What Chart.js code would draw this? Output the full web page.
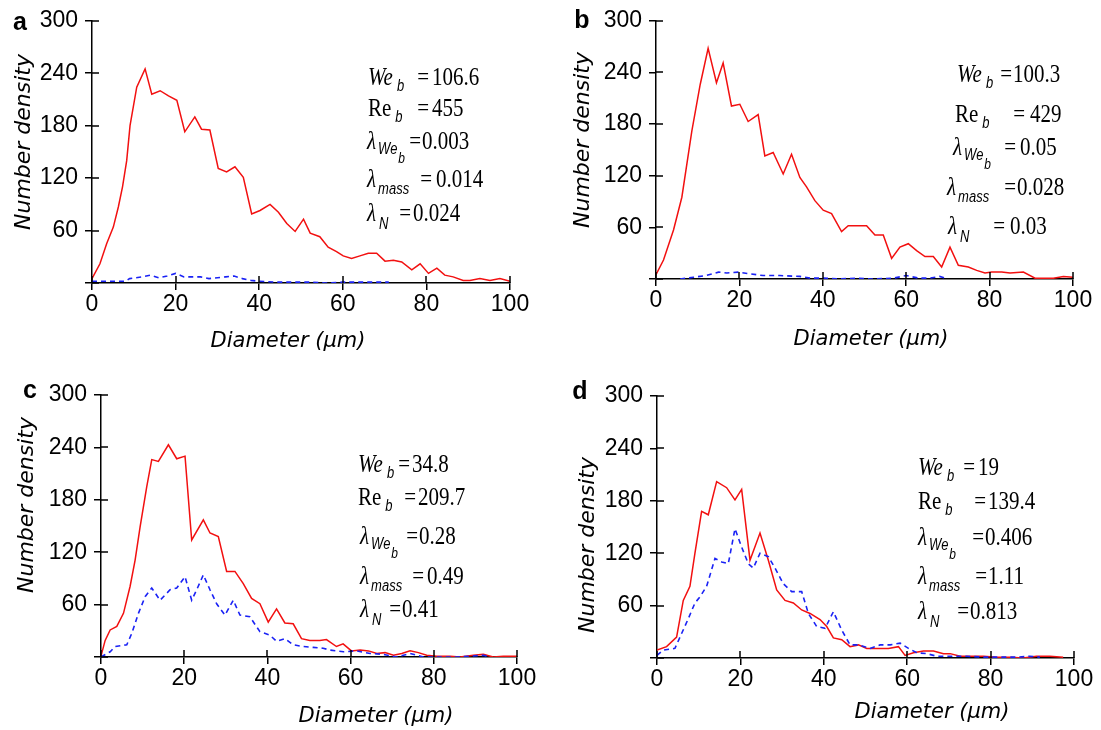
<!DOCTYPE html>
<html><head><meta charset="utf-8">
<script src="https://cdn.jsdelivr.net/npm/chart.js@4.4.1/dist/chart.umd.min.js"></script>
<style>
html,body{margin:0;padding:0;background:#fff;width:1101px;height:730px;overflow:hidden}
.panel{position:absolute}
canvas{display:block}
</style></head><body>
<div class="panel" style="left:0;top:0;width:550px;height:365px"><canvas id="ca" width="550" height="365"></canvas></div>
<div class="panel" style="left:550px;top:0;width:551px;height:365px"><canvas id="cb" width="551" height="365"></canvas></div>
<div class="panel" style="left:0;top:365px;width:550px;height:365px"><canvas id="cc" width="550" height="365"></canvas></div>
<div class="panel" style="left:550px;top:365px;width:551px;height:365px"><canvas id="cd" width="551" height="365"></canvas></div>
<script>
// ---------- data ----------
const xTickValues = [0, 20, 40, 60, 80, 100];
const yTickValues = [0, 60, 120, 180, 240, 300];
const xTitle = 'Diameter (\u03bcm)';
const yTitle = 'Number density';

const aRedX = [0,1.9,3.5,5.1,6.3,7.3,8.3,9.1,10.7,12.7,14.3,16.3,18.3,20.3,22.2,24.6,26.2,28.2,30.2,32.2,34.2,36.2,38.2,40.2,42.6,44.6,46.6,48.6,50.6,52.2,54.5,56.5,58.5,60.1,62.1,64.1,66.1,68.1,70.1,72.1,74.1,76.5,78.5,80.5,82.5,84.4,86.4,88.8,90.4,92.8,95.2,97.6,100];
const aRedY = [5,22,45,64,87,110,140,180,224,245,216,220,214,209,173,190,176,175,131,127,133,121,79,83,90,81,68,59,73,57,53,41,36,31,28,31,34,34,25,26,24,15,22,11,17,9,7,3,3,5,3,5,2];
const aBlueX = [0,4,8,9,12,14,16,18,20,22,24,26,28,30,32,34,36,38,40,44,48,52,56,60,64,68,71];
const aBlueY = [2,2,2,5,7,9,6,8,11,7,7,7,5,6,7,8,5,3,2,1,1,1,0,1,1,1,1];

const bRedX = [0,1.8,4.2,6.2,8.6,10.6,12.5,14.5,16.1,18.1,20.1,22.1,24.5,26.1,28.1,30.5,32.5,34.5,36.1,38.1,40.1,42.1,44.5,46.1,48.1,50.5,52.5,54.5,56.5,58.5,60.5,62.5,64.5,66.5,68.5,70.5,72.5,74.9,76.9,78.9,80.5,82.9,84.9,88.1,90.9,92.9,95.3,97.7,100];
const bRedY = [5,22,57,95,172,226,268,228,251,201,203,183,191,143,147,122,145,118,107,91,80,76,55,62,62,62,51,51,24,37,41,33,26,26,14,37,16,14,10,7,8,8,7,8,1,1,1,3,2];
const bBlueX = [5.8,9,12,15,17,19.7,22.5,25.7,29.7,34.5,37,40,44,48,52,57,60,63,65.7,68,70];
const bBlueY = [0,2,4,8,7,8,6,4,4,3,1,1,0,1,0,1,4,1,1,3,0];

const cRedX = [0,1,2.2,3.8,5.4,7,8.2,9.4,11,12.2,13.8,16.2,18.2,20.2,21.8,24.6,26.2,28.2,30.2,32.2,34.2,36.2,38.2,40.2,42.2,44.2,46.2,48.2,50.2,52.6,54.2,56.6,58.2,60.2,62.3,64.3,66.3,68.3,70.3,72.3,74.3,76.3,78.3,80.7,83.9,86.3,89.5,91.9,94.3,96.7,100];
const cRedY = [1,19,31,35,50,81,111,149,195,226,224,243,227,230,134,157,142,138,98,98,84,67,61,40,55,39,38,21,19,19,20,12,15,7,8,7,4,5,2,4,7,5,2,1,1,0,2,3,0,1,1];
const cBlueX = [0,2.2,3.4,6.2,7.4,9,10.6,12.2,14.2,16.6,18.2,20.2,21.8,23,24.6,26.2,27.8,29.8,31.8,33.4,35.8,38.2,40.6,42.2,44.2,46.2,48.6,51,53.4,55,58.3,61.5,64.7,67.9,71,74.3,77.5,81.5,85.5,91.9,93.5];
const cBlueY = [0,6,12,14,27,50,69,79,65,77,79,92,65,77,94,77,61,48,65,48,46,29,25,18,21,14,12,11,10,8,6,7,4,3,0,4,0,0,0,2,0];

const dRedX = [0,2.3,4.7,6.3,7.9,9.1,10.7,12.3,14.3,16.7,18.7,20.3,22.3,24.7,26.7,28.7,30.7,32.7,34.7,36.7,39.1,40.7,42.3,44.3,46.3,48.3,50.3,52.7,55.5,57.9,59.5,61.5,63.9,66.3,68.7,70.3,72.7,75.1,78.3,81.5,84.7,87.8,91,94.2,97.4];
const dRedY = [9,13,24,66,82,120,168,164,202,195,181,193,112,143,112,78,66,63,55,51,44,36,23,21,13,15,11,11,11,13,3,6,8,8,5,5,2,2,2,1,1,0,2,2,1];
const dBlueX = [0,1.5,4.3,5.9,7.5,9.1,10.3,11.9,13.9,15.5,17.1,18.7,20.3,21.9,23.1,24.7,26.7,28.3,30.3,32.3,34.7,36.3,38.3,40.3,42.3,44.3,46.3,48.3,51.1,53.5,55.9,58.3,60.3,62.3,64.7,67.1,70.3,74.3,78.3,82.3,86.3,89.4,91.8];
const dBlueY = [3,9,11,28,45,63,70,82,114,110,108,148,127,108,103,120,116,103,85,76,76,51,36,34,53,32,15,15,11,15,15,17,11,6,5,2,2,2,1,1,1,2,1];

const panelLetters = ['a', 'b', 'c', 'd'];
const annotLabels = ['We', 'Re', 'lamWe', 'lamMass', 'lamN'];
const aValues = ['106.6', '455', '0.003', '0.014', '0.024'];
const bValues = ['100.3', '429', '0.05', '0.028', '0.03'];
const cValues = ['34.8', '209.7', '0.28', '0.49', '0.41'];
const dValues = ['19', '139.4', '0.406', '1.11', '0.813'];

// ---------- styling ----------
const SERIF = "'Liberation Serif','Times New Roman',serif";
const SANS = "'Liberation Sans',Arial,sans-serif";
const TITLEF = "'DejaVu Sans',Verdana,sans-serif";
const TICKF = "'Liberation Sans Narrow','Arial Narrow','Liberation Sans',Arial,sans-serif";
const SY = 1.22;

const prefixDefs = {
  We: [{t:'We', font:'italic 21px '+SERIF, dy:0, gap:0}, {t:'b', font:'italic 13px '+SANS, dy:9, gap:4}],
  Re: [{t:'Re', font:'21px '+SERIF, dy:0, gap:0}, {t:'b', font:'italic 13px '+SANS, dy:9, gap:4}],
  lamWe: [{t:'\u03bb', font:'italic 21px '+SERIF, dy:0, gap:0}, {t:'We', font:'italic 13px '+SANS, dy:8, gap:2}, {t:'b', font:'italic 12px '+SANS, dy:17, gap:1}],
  lamMass: [{t:'\u03bb', font:'italic 21px '+SERIF, dy:0, gap:0}, {t:'mass', font:'italic 13px '+SANS, dy:10, gap:2}],
  lamN: [{t:'\u03bb', font:'italic 21px '+SERIF, dy:0, gap:0}, {t:'N', font:'italic 13px '+SANS, dy:11, gap:3}]
};

function drawText(ctx, text, x, y, font, align) {
  ctx.save();
  ctx.font = font;
  ctx.textAlign = align || 'left';
  ctx.textBaseline = 'middle';
  ctx.fillStyle = '#000';
  ctx.translate(x, y);
  ctx.scale(1, SY);
  ctx.fillText(text, 0, 0);
  const w = ctx.measureText(text).width;
  ctx.restore();
  return w;
}

const panelTextPlugin = {
  id: 'panelText',
  afterDraw(chart, args, o) {
    const ctx = chart.ctx;
    ctx.save();
    ctx.font = 'bold 25px ' + SANS;
    ctx.textAlign = 'center'; ctx.textBaseline = 'middle'; ctx.fillStyle = '#000';
    ctx.fillText(o.letter, o.letterPos[0], o.letterPos[1]);
    ctx.font = 'italic 21px ' + TITLEF;
    ctx.fillText(xTitle, o.xTitlePos[0], o.xTitlePos[1]);
    ctx.translate(o.yTitlePos[0], o.yTitlePos[1]);
    ctx.rotate(-Math.PI / 2);
    ctx.font = 'italic 22px ' + TITLEF;
    ctx.fillText(yTitle, 0, 0);
    ctx.restore();
    annotLabels.forEach((key, i) => {
      let x = o.startX[i];
      const y = o.lineY[i];
      prefixDefs[key].forEach(seg => {
        x += seg.gap;
        x += drawText(ctx, seg.t, x, y + seg.dy, seg.font);
      });
      drawText(ctx, '=', o.valX[i] - o.eqGap[i], y, '21px ' + SERIF, 'right');
      drawText(ctx, o.values[i], o.valX[i], y, '21px ' + SERIF);
    });
    const xs = chart.scales.x, ys = chart.scales.y, ca = chart.chartArea;
    ctx.save();
    ctx.strokeStyle = '#000'; ctx.lineWidth = 1.5;
    ctx.beginPath();
    xTickValues.forEach(v => { const px = Math.round(xs.getPixelForValue(v)); ctx.moveTo(px, ca.bottom); ctx.lineTo(px, ca.bottom - 7); });
    yTickValues.forEach(v => { const py = Math.round(ys.getPixelForValue(v)); ctx.moveTo(ca.left, py); ctx.lineTo(ca.left + 7, py); });
    ctx.stroke();
    ctx.restore();
  }
};

function pts(xs, ys) { return xs.map((x, i) => ({x: x, y: ys[i]})); }

function makeChart(id, redX, redY, blueX, blueY, L, values) {
  const ctx = document.getElementById(id);
  return new Chart(ctx, {
    type: 'scatter',
    data: {
      datasets: [
        { label: 'red', data: pts(redX, redY), showLine: true, borderColor: '#f21010', borderWidth: 1.5, pointRadius: 0, tension: 0, order: 2 },
        { label: 'blue', data: pts(blueX, blueY), showLine: true, borderColor: '#1a22f5', borderWidth: 1.6, borderDash: [5, 4], pointRadius: 0, tension: 0, order: 1 }
      ]
    },
    options: {
      responsive: false,
      animation: false,
      devicePixelRatio: 1,
      layout: { padding: { left: 0, right: L.right, top: L.top, bottom: 0 } },
      plugins: {
        legend: { display: false },
        tooltip: { enabled: false },
        panelText: {
          letter: L.letter, letterPos: L.letterPos, xTitlePos: L.xTitlePos, yTitlePos: L.yTitlePos,
          startX: L.startX, eqGap: L.eqGap, valX: L.valX, lineY: L.lineY, values: values
        }
      },
      scales: {
        x: {
          type: 'linear', min: 0, max: 100,
          afterBuildTicks: s => { s.ticks = xTickValues.map(v => ({value: v})); },
          afterFit: s => { s.height = L.xH; },
          grid: { display: true, drawOnChartArea: false, drawTicks: true, tickLength: 7, color: '#000', lineWidth: 1.5 },
          border: { display: true, color: '#000', width: 1.5 },
          ticks: { color: '#000', padding: 1, maxRotation: 0, autoSkip: false, font: { family: TICKF, size: 23 } }
        },
        y: {
          type: 'linear', min: 0, max: 300,
          afterBuildTicks: s => { s.ticks = yTickValues.map(v => ({value: v})); },
          afterFit: s => { s.width = L.yW; },
          grid: { display: true, drawOnChartArea: false, drawTicks: true, tickLength: 7, color: '#000', lineWidth: 1.5 },
          border: { display: true, color: '#000', width: 1.5 },
          ticks: { color: '#000', padding: 7, autoSkip: false, font: { family: TICKF, size: 23 },
                   callback: v => (v === 0 ? '' : String(v)) }
        }
      }
    },
    plugins: [panelTextPlugin]
  });
}

makeChart('ca', aRedX, aRedY, aBlueX, aBlueY, {
  letter: panelLetters[0], letterPos: [20, 23], xTitlePos: [288, 342], yTitlePos: [24, 142],
  yW: 92, right: 40, top: 20, xH: 82,
  startX: [368, 368, 367, 367, 367], eqGap: [3, 3, 1, 4, 2], valX: [432, 432, 422, 436, 413],
  lineY: [78, 109, 142, 180, 214]
}, aValues);

makeChart('cb', bRedX, bRedY, bBlueX, bBlueY, {
  letter: panelLetters[1], letterPos: [32, 21], xTitlePos: [321, 340], yTitlePos: [33, 140],
  yW: 106, right: 28, top: 19, xH: 86,
  startX: [407, 405, 403, 397, 398], eqGap: [1, 5, 4, 1, 5], valX: [463, 480, 470, 467, 460],
  lineY: [75, 115, 148, 188, 227]
}, bValues);

makeChart('cc', cRedX, cRedY, cBlueX, cBlueY, {
  letter: panelLetters[2], letterPos: [30, 26], xTitlePos: [376, 352], yTitlePos: [27, 140],
  yW: 101, right: 33, top: 30, xH: 73,
  startX: [358, 358, 360, 360, 360], eqGap: [2, 2, 1, 3, 1], valX: [412, 418, 419, 427, 402],
  lineY: [100, 133, 172, 212, 245]
}, cValues);

makeChart('cd', dRedX, dRedY, dBlueX, dBlueY, {
  letter: panelLetters[3], letterPos: [30, 27], xTitlePos: [382, 348], yTitlePos: [38, 180],
  yW: 107, right: 27, top: 31, xH: 72,
  startX: [368, 368, 368, 368, 368], eqGap: [3, 2, 1, 1, 1], valX: [428, 438, 435, 438, 420],
  lineY: [103, 137, 173, 212, 247]
}, dValues);
</script>
</body></html>
